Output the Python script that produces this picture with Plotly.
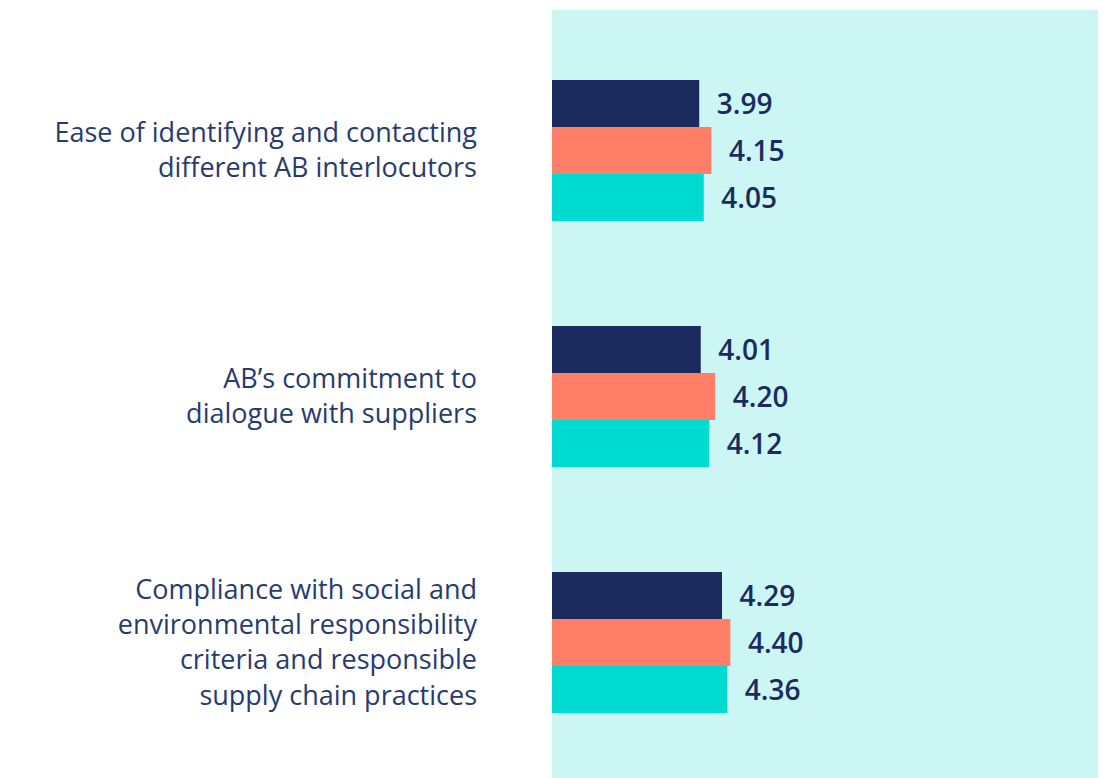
import plotly.graph_objects as go

categories = [
    "Ease of identifying and contacting<br>different AB interlocutors",
    "AB’s commitment to<br>dialogue with suppliers",
    "Compliance with social and<br>environmental responsibility<br>criteria and responsible<br>supply chain practices",
]
series_names = ["Series 1", "Series 2", "Series 3"]
series_values = [
    [3.99, 4.01, 4.29],
    [4.15, 4.20, 4.40],
    [4.05, 4.12, 4.36],
]
colors = ["#1c2b5e", "#fe7e68", "#00dbd1"]
axis_start = 2.05

fig = go.Figure()
for name, vals, col in zip(series_names, series_values, colors):
    fig.add_trace(go.Bar(
        y=categories,
        x=[v - axis_start for v in vals],
        base=axis_start,
        name=name,
        orientation='h',
        marker_color=col,
        marker_line_width=0,
        text=vals,
        texttemplate='\u00a0\u00a0%{text:.2f}',
        textposition='outside',
        cliponaxis=False,
        textfont=dict(family='Open Sans', size=28, color='#1c2b5e', weight=600),
    ))

fig.update_layout(
    barmode='group',
    bargap=0.427,
    bargroupgap=0,
    showlegend=False,
    width=1098, height=770,
    margin=dict(l=544, r=0, t=2, b=0, pad=0),
    paper_bgcolor='white',
    plot_bgcolor='#ccf6f4',
    xaxis=dict(range=[axis_start, 9.35], visible=False, showgrid=False, zeroline=False),
    yaxis=dict(
        range=[2.551, -0.571],
        showgrid=False, zeroline=False, showline=False,
        ticks='', ticklabelstandoff=74,
        tickfont=dict(family='Open Sans', size=27, color='#283b6e'),
    ),
)

fig.write_html("out.html")
